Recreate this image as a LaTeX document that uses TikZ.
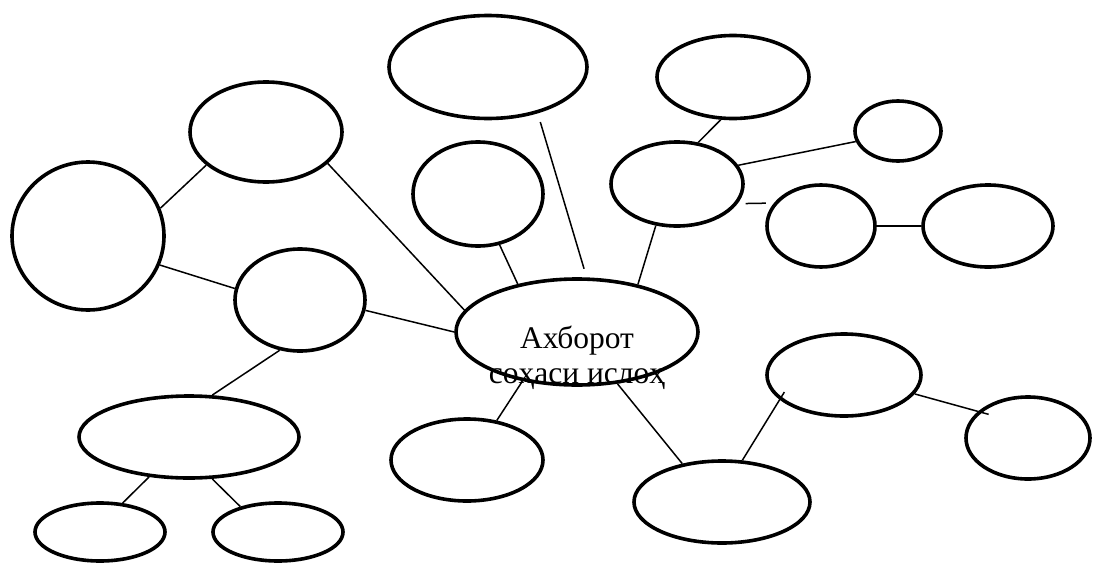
\documentclass[tikz,border=0pt]{standalone}
\usepackage{fontspec}
\setmainfont{Liberation Serif}
\usetikzlibrary{shapes.geometric}
\tikzset{
  blob/.style={draw=black, line width=3.6pt, ellipse, inner sep=0pt, fill=none},
  link/.style={draw=black, line width=1.5pt},
  maintext/.style={inner sep=0pt, align=center, font=\fontsize{31.5}{35}\selectfont}
}
\begin{document}
\begin{tikzpicture}[x=1pt, y=-1pt]
\useasboundingbox (0,0) rectangle (1093,565);
% ellipses (centre, width, height)
\node[blob, minimum width=198pt, minimum height=103pt] (A) at (488,67) {};
\node[blob, minimum width=152pt, minimum height=83pt]  (B) at (733,77) {};
\node[blob, minimum width=152pt, minimum height=100pt] (C) at (266,132) {};
\node[blob, minimum width=152pt, minimum height=148pt] (D) at (88,236) {};
\node[blob, minimum width=130pt, minimum height=102pt] (E) at (300,300) {};
\node[blob, minimum width=130pt, minimum height=104pt] (F) at (478,194) {};
\node[blob, minimum width=132pt, minimum height=84pt]  (G) at (677,184) {};
\node[blob, minimum width=86pt,  minimum height=60pt]  (H) at (898,131) {};
\node[blob, minimum width=108pt, minimum height=82pt]  (I) at (821,226) {};
\node[blob, minimum width=130pt, minimum height=82pt]  (J) at (988,226) {};
\node[blob, minimum width=242pt, minimum height=106pt] (K) at (577,332) {};
\node[blob, minimum width=220pt, minimum height=82pt]  (L) at (189,437) {};
\node[blob, minimum width=130pt, minimum height=58pt]  (M) at (100,532) {};
\node[blob, minimum width=130pt, minimum height=58pt]  (N) at (278,532) {};
\node[blob, minimum width=152pt, minimum height=82pt]  (O) at (467,460) {};
\node[blob, minimum width=176pt, minimum height=82pt]  (P) at (722,502) {};
\node[blob, minimum width=154pt, minimum height=82pt]  (Q) at (844,375) {};
\node[blob, minimum width=124pt, minimum height=82pt]  (R) at (1028,438) {};
% central text
\node[maintext] (Ktext) at (577,358) {Ахборот\\соҳаси ислоҳ};
% connectors
\draw[link] (D.21.4) -- (C.-151.4);
\draw[link] (D.-22.1) -- (E.170.7);
\draw[link] (C.-27.7) -- (K.169.8);
\draw[link] (E.-9.3) -- (K.180);
\draw[link] (E.-112.2) -- (L.61.3);
\draw[link] (L.-135.7) -- (M.52.5);
\draw[link] (L.-61.9) -- (N.146.3);
\draw[link] (F.-67.8) -- (K.141.2);
\draw[link, shorten <=9pt, shorten >=9pt] (A.-43.9) -- (K.80.2);
\draw[link] (G.-117.1) -- (K.38.8);
\draw[link] (B.-106.1) -- (G.63.4);
\draw[link] (G.17.9) -- (H.-166.3);
\draw[link, shorten <=8pt, shorten >=8pt] (G.-18.8) -- (I.154.5);
\draw[link] (I.0) -- (J.180);
\draw[link] (K.-138.5) -- (O.53.3);
\draw[link] (K.-52.3) -- (P.136.3);
\draw[link, shorten >=-9pt] (P.64) -- (Q.-159.4);
\draw[link, shorten >=-11pt] (Q.-15.1) -- (R.152.9);
\end{tikzpicture}
\end{document}
